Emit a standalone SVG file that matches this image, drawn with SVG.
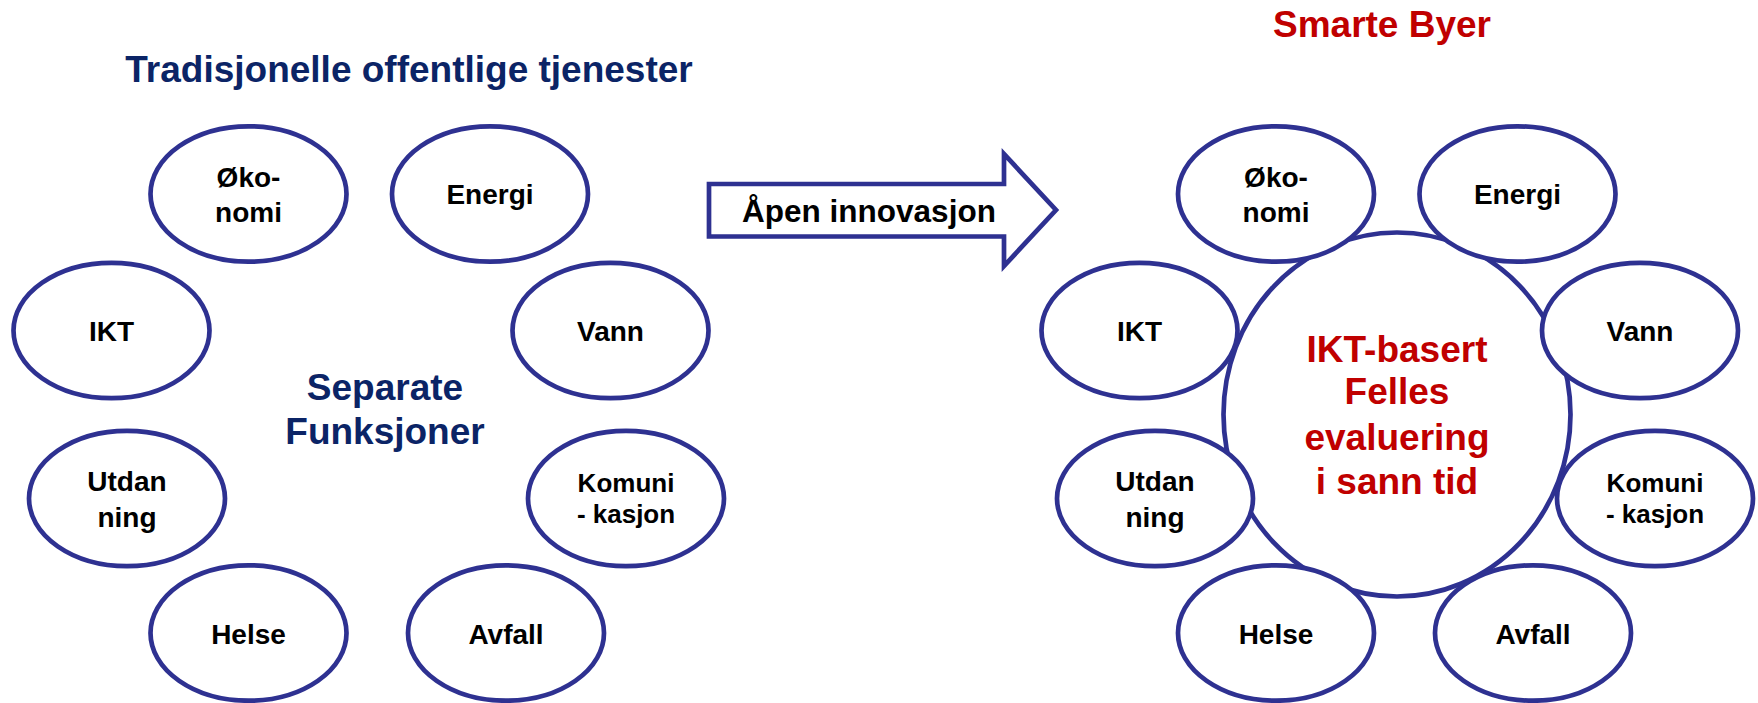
<svg xmlns="http://www.w3.org/2000/svg" width="1758" height="703" viewBox="0 0 1758 703">
<style>
.n{fill:#fff;stroke:#2e3191;stroke-width:4.7}
.t{font-family:"Liberation Sans",Arial,sans-serif;font-weight:bold;font-size:28px;fill:#000;text-anchor:middle}
.s{font-size:26px}
.h{font-family:"Liberation Sans",Arial,sans-serif;font-weight:bold;font-size:37px;text-anchor:middle}
.navy{fill:#0b2466}
.red{fill:#c00000}
</style>
<rect width="1758" height="703" fill="#fff"/>
<text class="h navy" x="409" y="82">Tradisjonelle offentlige tjenester</text>
<text class="h red" x="1382" y="37">Smarte Byer</text>
<text class="h navy" x="385" y="400">Separate</text>
<text class="h navy" x="385" y="443.5">Funksjoner</text>

<g id="connectors">
<g id="arrow">
<polygon points="709,184 1004,184 1004,154 1056,210 1004,266 1004,236.5 709,236.5" fill="#fff" stroke="#2e3191" stroke-width="4.7" stroke-linejoin="miter"/>
<text class="t" style="font-size:31.5px" x="869" y="222">Åpen innovasjon</text>
</g>
</g>

<g id="left">
<g id="l-okonomi"><ellipse class="n" cx="248.5" cy="194" rx="98" ry="67.7"/><text class="t" x="248.5" y="186.5">Øko-</text><text class="t" x="248.5" y="221.5">nomi</text></g>
<g id="l-energi"><ellipse class="n" cx="490" cy="194" rx="98" ry="67.7"/><text class="t" x="490" y="204">Energi</text></g>
<g id="l-ikt"><ellipse class="n" cx="111.5" cy="330.5" rx="98" ry="67.7"/><text class="t" x="111.5" y="340.5">IKT</text></g>
<g id="l-vann"><ellipse class="n" cx="610.5" cy="330.5" rx="98" ry="67.7"/><text class="t" x="610.5" y="340.5">Vann</text></g>
<g id="l-utdanning"><ellipse class="n" cx="127" cy="498.5" rx="98" ry="67.7"/><text class="t" x="127" y="490.5">Utdan</text><text class="t" x="127" y="526.5">ning</text></g>
<g id="l-komunikasjon"><ellipse class="n" cx="626" cy="498.5" rx="98" ry="67.7"/><text class="t s" x="626" y="492">Komuni</text><text class="t s" x="626" y="523">- kasjon</text></g>
<g id="l-helse"><ellipse class="n" cx="248.5" cy="633" rx="98" ry="67.7"/><text class="t" x="248.5" y="643.5">Helse</text></g>
<g id="l-avfall"><ellipse class="n" cx="506" cy="633" rx="98" ry="67.7"/><text class="t" x="506" y="643.5">Avfall</text></g>
</g>

<g id="right">
<g id="r-center"><ellipse class="n" cx="1397" cy="414.5" rx="173.5" ry="182"/>
<text class="h red" x="1397" y="361.5">IKT-basert</text>
<text class="h red" x="1397" y="404">Felles</text>
<text class="h red" x="1397" y="450">evaluering</text>
<text class="h red" x="1397" y="494">i sann tid</text></g>
<g id="r-okonomi"><ellipse class="n" cx="1276" cy="194" rx="98" ry="67.7"/><text class="t" x="1276" y="186.5">Øko-</text><text class="t" x="1276" y="221.5">nomi</text></g>
<g id="r-energi"><ellipse class="n" cx="1517.5" cy="194" rx="98" ry="67.7"/><text class="t" x="1517.5" y="204">Energi</text></g>
<g id="r-ikt"><ellipse class="n" cx="1139.5" cy="330.5" rx="98" ry="67.7"/><text class="t" x="1139.5" y="340.5">IKT</text></g>
<g id="r-vann"><ellipse class="n" cx="1640" cy="330.5" rx="98" ry="67.7"/><text class="t" x="1640" y="340.5">Vann</text></g>
<g id="r-utdanning"><ellipse class="n" cx="1155" cy="498.5" rx="98" ry="67.7"/><text class="t" x="1155" y="490.5">Utdan</text><text class="t" x="1155" y="526.5">ning</text></g>
<g id="r-komunikasjon"><ellipse class="n" cx="1655" cy="498.5" rx="98" ry="67.7"/><text class="t s" x="1655" y="492">Komuni</text><text class="t s" x="1655" y="523">- kasjon</text></g>
<g id="r-helse"><ellipse class="n" cx="1276" cy="633" rx="98" ry="67.7"/><text class="t" x="1276" y="643.5">Helse</text></g>
<g id="r-avfall"><ellipse class="n" cx="1533" cy="633" rx="98" ry="67.7"/><text class="t" x="1533" y="643.5">Avfall</text></g>
</g>
</svg>
